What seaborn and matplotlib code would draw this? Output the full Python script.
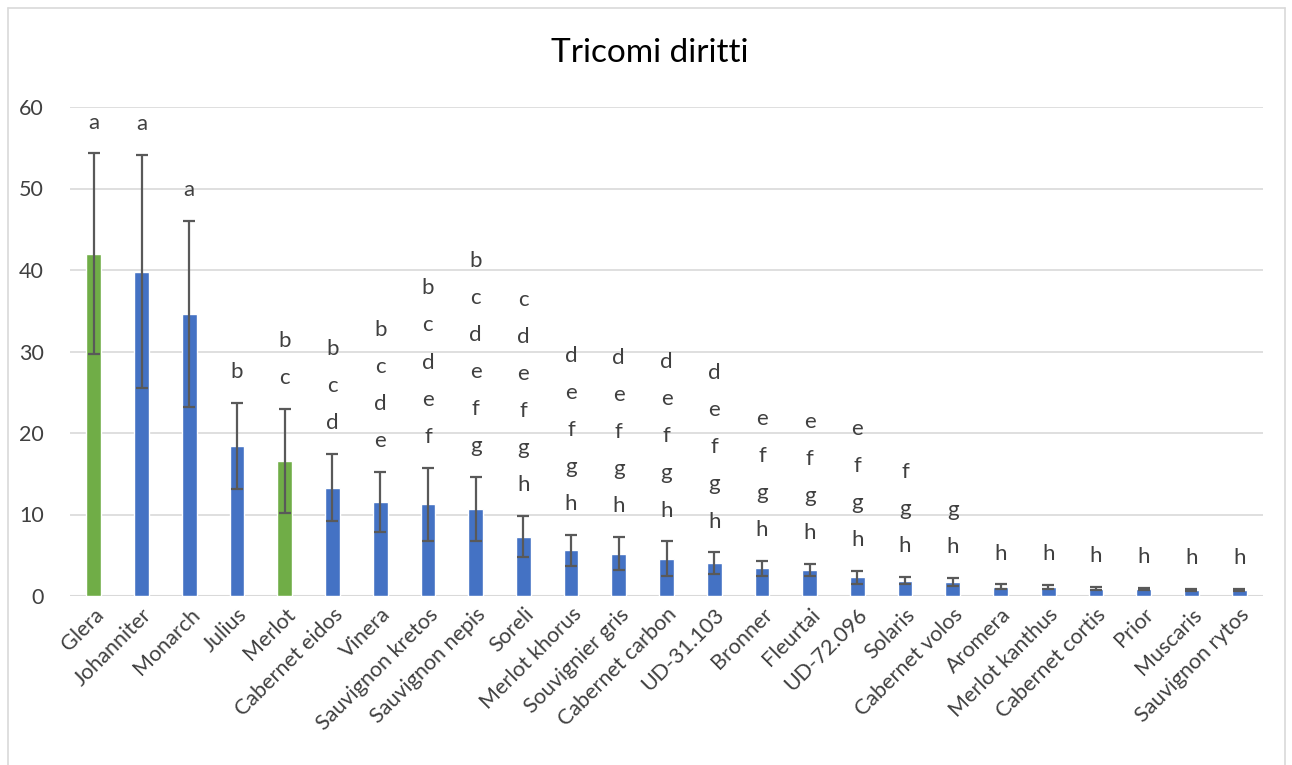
import matplotlib
matplotlib.use("Agg")
import matplotlib.pyplot as plt
import seaborn as sns
import pandas as pd
from matplotlib.lines import Line2D

cultivars = ["Glera", "Johanniter", "Monarch", "Julius", "Merlot", "Cabernet eidos",
             "Vinera", "Sauvignon kretos", "Sauvignon nepis", "Soreli", "Merlot khorus",
             "Souvignier gris", "Cabernet carbon", "UD-31.103", "Bronner", "Fleurtai",
             "UD-72.096", "Solaris", "Cabernet volos", "Aromera", "Merlot kanthus",
             "Cabernet cortis", "Prior", "Muscaris", "Sauvignon rytos"]
values = [42.0, 39.8, 34.6, 18.4, 16.6, 13.3, 11.5, 11.25, 10.7, 7.3, 5.6, 5.2,
          4.6, 4.0, 3.4, 3.2, 2.3, 1.9, 1.7, 1.15, 1.1, 0.9, 0.86, 0.74, 0.74]
errors = [12.3, 14.3, 11.4, 5.3, 6.4, 4.1, 3.7, 4.5, 3.9, 2.5, 1.9, 2.0,
          2.1, 1.35, 0.9, 0.7, 0.8, 0.45, 0.5, 0.28, 0.3, 0.17, 0.15, 0.12, 0.1]
groups = ["ref", "res", "res", "res", "ref", "res", "res", "res", "res", "res", "res", "res",
          "res", "res", "res", "res", "res", "res", "res", "res", "res", "res", "res", "res", "res"]
letters = ["a", "a", "a", "b", "bc", "bcd", "bcde", "bcdef", "bcdefg", "cdefgh", "defgh",
           "defgh", "defgh", "defgh", "efgh", "efgh", "efgh", "fgh", "gh",
           "h", "h", "h", "h", "h", "h"]
yticks = [0, 10, 20, 30, 40, 50, 60]
title = "Tricomi diritti"

df = pd.DataFrame({"cultivar": cultivars, "value": values, "group": groups})

sns.set_style("white")
plt.rcParams["font.family"] = ["Lato", "DejaVu Sans"]

fig = plt.figure(figsize=(12.92, 7.65), dpi=100)
ax = fig.add_axes([70 / 1292, 1 - 596 / 765, (1263 - 70) / 1292, (596 - 107) / 765])

palette = {"ref": "#70AD47", "res": "#4472C4"}
sns.barplot(data=df, x="cultivar", y="value", hue="group", palette=palette,
            width=0.31, dodge=False, legend=False, ax=ax, zorder=3, saturation=1)

xs = list(range(len(cultivars)))
ax.errorbar(xs, values, yerr=errors, fmt="none", ecolor="#595959", elinewidth=1.6,
            capsize=4.6, capthick=1.6, zorder=4)

for x, v, e, lab in zip(xs, values, errors, letters):
    ax.annotate("\n".join(lab), xy=(x, v + e), xytext=(0, 15), textcoords="offset points",
                ha="center", va="bottom", fontsize=16, color="#404040",
                linespacing=2.07, annotation_clip=False)

ax.set_xlim(-0.5, len(cultivars) - 0.5)
ax.set_ylim(0, 60)
ax.set_yticks(yticks)
ax.yaxis.grid(True, color="#D9D9D9", linewidth=1.2, zorder=0)
ax.set_axisbelow(True)
for s in ax.spines.values():
    s.set_visible(False)
ax.axhline(0, color="#D9D9D9", linewidth=1.5, zorder=2)
ax.set_xlabel("")
ax.set_ylabel("")
ax.tick_params(axis="both", length=0, labelsize=15.5, labelcolor="#404040")
ax.tick_params(axis="y", pad=19)
ax.tick_params(axis="x", pad=6)
ax.set_xticks(xs)
ax.set_xticklabels(cultivars, rotation=45, ha="right", rotation_mode="anchor")

fig.text(650 / 1292, 1 - 53 / 765, title, ha="center", va="center",
         fontsize=24, color="#000000")

# outer chart border
for (x0, y0, x1, y1) in [(8, 8, 8, 765), (8, 8, 1285, 8), (1285, 8, 1285, 765)]:
    fig.add_artist(Line2D([x0 / 1292, x1 / 1292], [1 - y0 / 765, 1 - y1 / 765],
                          color="#D9D9D9", linewidth=1.2, transform=fig.transFigure))

fig.savefig("out.png", dpi=100)
